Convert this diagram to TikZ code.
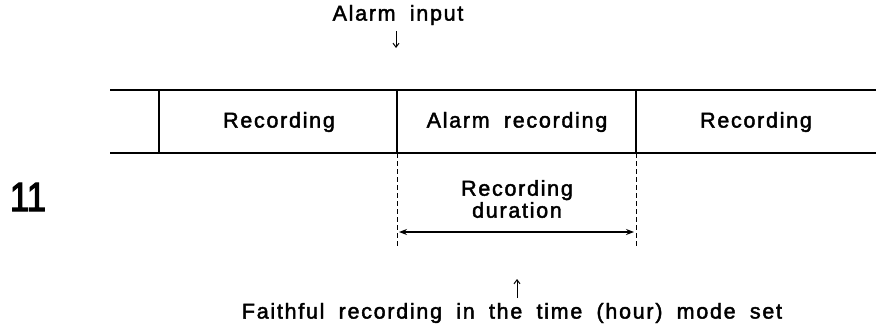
\documentclass[tikz,border=0pt]{standalone}
\usepackage{fontspec}
\setmainfont{Liberation Sans}[LetterSpace=8,WordSpace=1.85,FakeBold=2]
\newfontfamily\numfont{Liberation Sans}[FakeBold=3]
\usetikzlibrary{arrows.meta}
\begin{document}
\begin{tikzpicture}[x=1pt,y=-1pt,
  lbl/.style={inner sep=0pt,font=\fontsize{21.5}{25}\selectfont,align=center},
  rule/.style={line width=1.4pt},
  dashrule/.style={line width=1pt,dash pattern=on 5pt off 3pt},
  tick/.style={line width=1pt,-{Straight Barb[length=4pt,width=6pt]}}]
\useasboundingbox (0,0) rectangle (885,332);
% frame
\coordinate (tl) at (110,90);
\coordinate (tr) at (876,90);
\coordinate (bl) at (110,153);
\coordinate (br) at (876,153);
\draw[rule] (tl) -- (tr);
\draw[rule] (bl) -- (br);
\coordinate (a1) at (159,90);  \coordinate (b1) at (159,153);
\coordinate (a2) at (397,90);  \coordinate (b2) at (397,153);
\coordinate (a3) at (636,90);  \coordinate (b3) at (636,153);
\draw[rule] (a1) -- (b1);
\draw[rule] (a2) -- (b2);
\draw[rule] (a3) -- (b3);
% labels in cells
\node[lbl] (rec1) at (279,122) {Recording};
\node[lbl] (alarm) at (517,122) {Alarm recording};
\node[lbl] (rec2) at (756,122) {Recording};
% dashed extensions
\coordinate (d2) at (397,247);
\coordinate (d3) at (636,247);
\draw[dashrule] (b2) -- (d2);
\draw[dashrule] (b3) -- (d3);
% duration
\node[lbl,font=\fontsize{21.5}{22}\selectfont] (dur) at (517,199) {Recording\\duration};
\coordinate (p1) at (399,232);
\coordinate (p2) at (634,232);
\draw[line width=1.2pt,{Stealth[length=8pt,width=6pt]}-{Stealth[length=8pt,width=6pt]}] (p1) -- (p2);
% alarm input
\node[lbl] (ain) at (398,15) {Alarm input};
\coordinate (ai1) at (396,31);
\coordinate (ai2) at (396,48);
\draw[tick] (ai1) -- (ai2);
% number
\node[inner sep=0pt,xscale=0.85,font=\numfont\fontsize{41}{44}\selectfont] (num) at (28,197) {11};
% bottom
\coordinate (f1) at (517,298);
\coordinate (f2) at (517,279);
\draw[tick] (f1) -- (f2);
\node[lbl] (faith) at (512,313) {Faithful recording in the time (hour) mode set};
\end{tikzpicture}
\end{document}
